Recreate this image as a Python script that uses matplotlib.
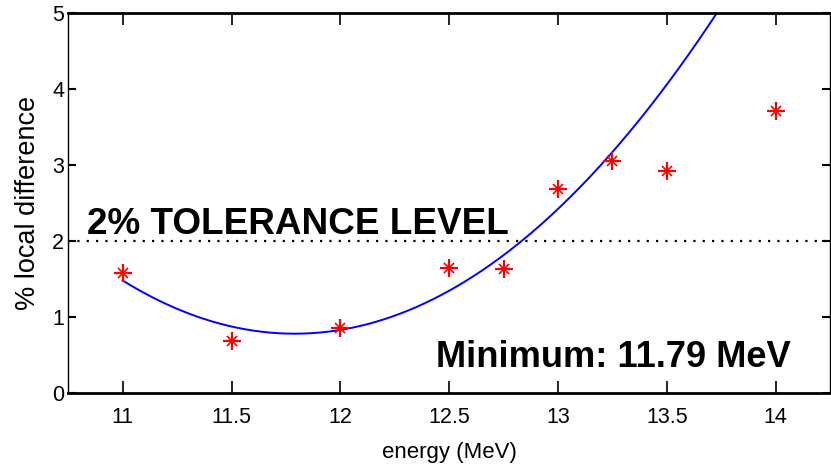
import numpy as np
import matplotlib
matplotlib.use("Agg")
import matplotlib.pyplot as plt

# Data
energy = [11.0, 11.5, 12.0, 12.5, 12.75, 13.0, 13.25, 13.5, 14.0]
local_diff = [1.58, 0.69, 0.85, 1.64, 1.63, 2.68, 3.05, 2.92, 3.71]

# Quadratic fit shown on the chart: y = a*(x - x0)^2 + c
fit_a = 1.12
fit_x0 = 11.79
fit_c = 0.78
fit_range = [11.0, 14.0]

tolerance = 2.0
xticks = [11, 11.5, 12, 12.5, 13, 13.5, 14]
xtick_labels = ["11", "11.5", "12", "12.5", "13", "13.5", "14"]
yticks = [0, 1, 2, 3, 4, 5]
ytick_labels = ["0", "1", "2", "3", "4", "5"]

narrow = ["Liberation Sans", "DejaVu Sans"]
bold = ["Liberation Sans", "DejaVu Sans"]

fig = plt.figure(figsize=(8.31, 4.65), dpi=100)
ax = fig.add_axes([0.0822, 0.1548, 0.9166, 0.8179])

xf = np.linspace(fit_range[0], fit_range[1], 400)
yf = fit_a * (xf - fit_x0) ** 2 + fit_c
ax.plot(xf, yf, color="#0000ff", lw=1.4, zorder=2)

ax.axhline(tolerance, color="black", lw=1.6, linestyle=(0, (1, 3.2)), zorder=1)

ax.plot(energy, local_diff, linestyle="none", marker="+", ms=13, mew=1.6,
        color="#ff0000", zorder=3)
ax.plot(energy, local_diff, linestyle="none", marker="x", ms=7, mew=1.2,
        color="#ff0000", zorder=3)

ax.set_xlim(10.75, 14.25)
ax.set_ylim(0, 5)
ax.set_xticks(xticks)
ax.set_xticklabels(xtick_labels, fontfamily=narrow, fontsize=15.5)
ax.set_yticks(yticks)
ax.set_yticklabels(ytick_labels, fontfamily=narrow, fontsize=15.5)

ax.tick_params(axis="x", which="major", direction="in", length=8.5, width=1.2,
               top=True, bottom=True, pad=10)
ax.tick_params(axis="y", which="major", direction="in", length=6, width=1.5,
               left=True, right=True, pad=3)

for side in ["top", "bottom"]:
    ax.spines[side].set_linewidth(2.0)
for side in ["left", "right"]:
    ax.spines[side].set_linewidth(1.0)

ax.set_xlabel("energy (MeV)", fontfamily=narrow, fontsize=16, labelpad=10)
ax.set_ylabel("% local difference", fontfamily=narrow, fontsize=19.5, labelpad=8)

ax.text(10.835, 2.09, "2% TOLERANCE LEVEL", fontfamily=bold, fontweight="bold",
        fontsize=26.6, ha="left", va="baseline", color="black")
ax.text(12.438, 0.346, "Minimum: 11.79 MeV", fontfamily=bold, fontweight="bold",
        fontsize=26.1, ha="left", va="baseline", color="black")

fig.savefig("out.png", dpi=100)
